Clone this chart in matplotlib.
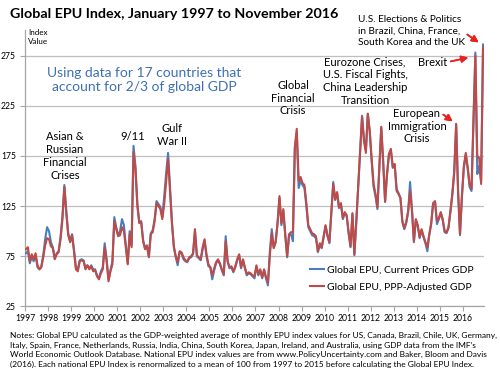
import numpy as np
import matplotlib
matplotlib.use('Agg')
import matplotlib.pyplot as plt

plt.rcParams['font.family'] = ['Lato', 'DejaVu Sans']

## DATA (monthly, Jan 1997 - Nov 2016)
years = list(range(1997, 2017))
y_ticks = [25, 75, 125, 175, 225, 275]

# Global EPU, PPP-adjusted GDP weights
epu_ppp = [
    82, 84, 70, 77, 72, 78, 66, 62, 64, 74, 86, 93,            # 1997
    92, 85, 83, 72, 77, 79, 92, 112, 144, 118, 96, 89,         # 1998
    96, 80, 62, 60, 70, 71, 70, 62, 66, 62, 65, 60,            # 1999
    61, 55, 52, 58, 62, 84, 70, 50, 60, 67, 110, 102,          # 2000
    95, 96, 104, 100, 84, 67, 97, 84, 179, 162, 125, 108,      # 2001
    109, 90, 82, 85, 74, 97, 99, 110, 128, 125, 122, 112,      # 2002
    127, 150, 172, 140, 108, 85, 75, 69, 80, 79, 74, 71,       # 2003
    70, 74, 75, 78, 102, 76, 74, 72, 84, 92, 77, 67,           # 2004
    64, 56, 63, 69, 72, 68, 62, 57, 90, 70, 64, 65,            # 2005
    60, 65, 72, 77, 64, 72, 64, 57, 59, 58, 56, 55,            # 2006
    66, 57, 62, 54, 62, 54, 49, 76, 98, 83, 89, 108,           # 2007
    135, 108, 122, 97, 75, 97, 99, 99, 184, 202, 150, 154,     # 2008
    148, 146, 128, 106, 102, 98, 97, 95, 80, 88, 84, 95,       # 2009
    106, 96, 89, 118, 147, 132, 139, 124, 128, 113, 119, 116,  # 2010
    99, 85, 118, 77, 110, 145, 180, 214, 190, 178, 217, 200,   # 2011
    172, 147, 137, 124, 164, 204, 170, 130, 157, 177, 182, 164,# 2012
    167, 140, 137, 133, 110, 103, 109, 120, 140, 120, 90, 112, # 2013
    106, 94, 102, 95, 89, 84, 97, 108, 128, 130, 110, 113,     # 2014
    119, 112, 100, 99, 104, 120, 137, 160, 207, 140, 97, 135,  # 2015
    165, 178, 164, 147, 142, 210, 275, 175, 173, 147, 283,     # 2016
]

# Global EPU, current prices GDP weights
epu_cur = [
    78, 80, 68, 74, 70, 76, 64, 62, 65, 76, 92, 104,           # 1997
    100, 89, 84, 73, 78, 80, 94, 115, 146, 120, 98, 90,        # 1998
    97, 82, 64, 62, 71, 72, 71, 63, 66, 63, 66, 62,            # 1999
    62, 56, 53, 60, 64, 88, 72, 52, 61, 70, 114, 104,          # 2000
    96, 100, 112, 106, 86, 68, 100, 86, 185, 165, 128, 109,    # 2001
    110, 91, 83, 86, 75, 98, 101, 112, 130, 127, 124, 114,     # 2002
    135, 158, 178, 145, 110, 84, 74, 66, 79, 78, 72, 70,       # 2003
    69, 73, 74, 77, 100, 75, 73, 71, 82, 90, 75, 65,           # 2004
    64, 52, 61, 68, 71, 67, 61, 56, 95, 70, 63, 64,            # 2005
    59, 64, 71, 76, 63, 71, 63, 56, 58, 57, 55, 53,            # 2006
    65, 56, 61, 53, 61, 53, 46, 80, 102, 84, 89, 108,          # 2007
    133, 106, 120, 96, 74, 96, 97, 90, 182, 198, 143, 150,     # 2008
    146, 143, 125, 104, 100, 96, 95, 93, 79, 86, 83, 94,       # 2009
    105, 95, 88, 118, 149, 131, 138, 123, 127, 112, 118, 115,  # 2010
    98, 84, 117, 76, 109, 145, 180, 215, 192, 181, 217, 199,   # 2011
    170, 144, 135, 122, 163, 203, 168, 129, 156, 176, 181, 163,# 2012
    166, 142, 138, 133, 109, 102, 108, 119, 149, 122, 89, 111, # 2013
    105, 93, 101, 94, 88, 80, 96, 107, 127, 129, 107, 112,     # 2014
    118, 111, 99, 98, 103, 119, 136, 158, 206, 140, 96, 134,   # 2015
    163, 176, 162, 144, 140, 209, 278, 157, 165, 150, 286,     # 2016
]

n = len(epu_ppp)
t = 1997 + (np.arange(n) + 0.5) / 12.0

BLUE = '#4A7EBB'
RED = '#BE4B48'
ARROW = '#E8221E'

fig = plt.figure(figsize=(5, 3.76), dpi=100)
ax = fig.add_axes([0.05, 0.185, 0.918, 0.734])

ax.plot(t, epu_cur, color=BLUE, lw=1.5, label='Global EPU, Current Prices GDP', zorder=3)
ax.plot(t, epu_ppp, color=RED, lw=1.5, label='Global EPU, PPP-Adjusted GDP', zorder=4)

ax.set_xlim(1997, 1997 + n / 12.0)
ax.set_ylim(25, 300)
ax.set_yticks(y_ticks)
ax.set_xticks(years)
ax.set_xticklabels([str(y) for y in years])
ax.grid(axis='y', color='#BFBFBF', lw=0.9)
ax.set_axisbelow(True)
for s in ['top', 'right']:
    ax.spines[s].set_visible(False)
for s in ['left', 'bottom']:
    ax.spines[s].set_color('#A6A6A6')
    ax.spines[s].set_linewidth(0.9)
ax.tick_params(axis='both', colors='#A6A6A6', labelcolor='black', labelsize=6.2, length=3.5, width=0.8)
ax.tick_params(axis='y', pad=3)
ax.tick_params(axis='x', pad=2)

ax.legend(loc='upper left', bbox_to_anchor=(0.612, 0.165), frameon=False, fontsize=7.5,
          handlelength=1.3, handletextpad=0.35, labelspacing=0.8, borderaxespad=0)

def px(x, y):
    return (x / 500.0, 1 - y / 376.0)

fig.text(*px(10, 14), 'Global EPU Index, January 1997 to November 2016', fontsize=10.3,
         fontweight='bold', va='center', ha='left')
fig.text(*px(28, 37), 'Index\nValue', fontsize=5.8, va='center', ha='left', linespacing=1.3)
fig.text(*px(144, 80), 'Using data for 17 countries that\naccount for 2/3 of global GDP',
         fontsize=10, color='#3F6FB5', va='center', ha='center', linespacing=1.25)

ann = dict(fontsize=8, va='center', ha='center', linespacing=1.2)
fig.text(*px(65, 156), 'Asian &\nRussian\nFinancial\nCrises', **ann)
fig.text(*px(133, 136), '9/11', **ann)
fig.text(*px(172, 135), 'Gulf\nWar II', **ann)
fig.text(*px(293, 98), 'Global\nFinancial\nCrisis', **ann)
fig.text(*px(365, 81), 'Eurozone Crises,\nU.S. Fiscal Fights,\nChina Leadership\nTransition', **ann)
fig.text(*px(417, 126), 'European\nImmigration\nCrisis', **ann)
fig.text(*px(358, 31), 'U.S. Elections & Politics\nin Brazil, China, France,\nSouth Korea and the UK',
         fontsize=7.2, va='center', ha='left', linespacing=1.35)
fig.text(*px(433, 62), 'Brexit', **ann)

arrowprops = dict(arrowstyle='-|>,head_length=0.4,head_width=0.2', color=ARROW, lw=1.2)
fig.add_artist(plt.annotate('', xy=px(471, 57), xytext=px(448, 62), xycoords='figure fraction',
                            textcoords='figure fraction', arrowprops=arrowprops))
fig.add_artist(plt.annotate('', xy=px(481, 44), xytext=px(465, 33), xycoords='figure fraction',
                            textcoords='figure fraction', arrowprops=arrowprops))
fig.add_artist(plt.annotate('', xy=px(455, 123), xytext=px(441, 113), xycoords='figure fraction',
                            textcoords='figure fraction', arrowprops=arrowprops))

notes = ("Notes: Global EPU calculated as the GDP-weighted average of monthly EPU index values for US, Canada, Brazil, Chile, UK, Germany,\n"
         "Italy, Spain, France, Netherlands, Russia, India, China, South Korea, Japan, Ireland, and Australia, using GDP data from the IMF\u2019s\n"
         "World Economic Outlook Database. National EPU index values are from www.PolicyUncertainty.com and Baker, Bloom and Davis\n"
         "(2016). Each national EPU Index is renormalized to a mean of 100 from 1997 to 2015 before calculating the Global EPU Index.")
fig.text(*px(10, 350), notes, fontsize=6.0, va='center', ha='left', linespacing=1.4)

fig.savefig('out.png', dpi=100)
